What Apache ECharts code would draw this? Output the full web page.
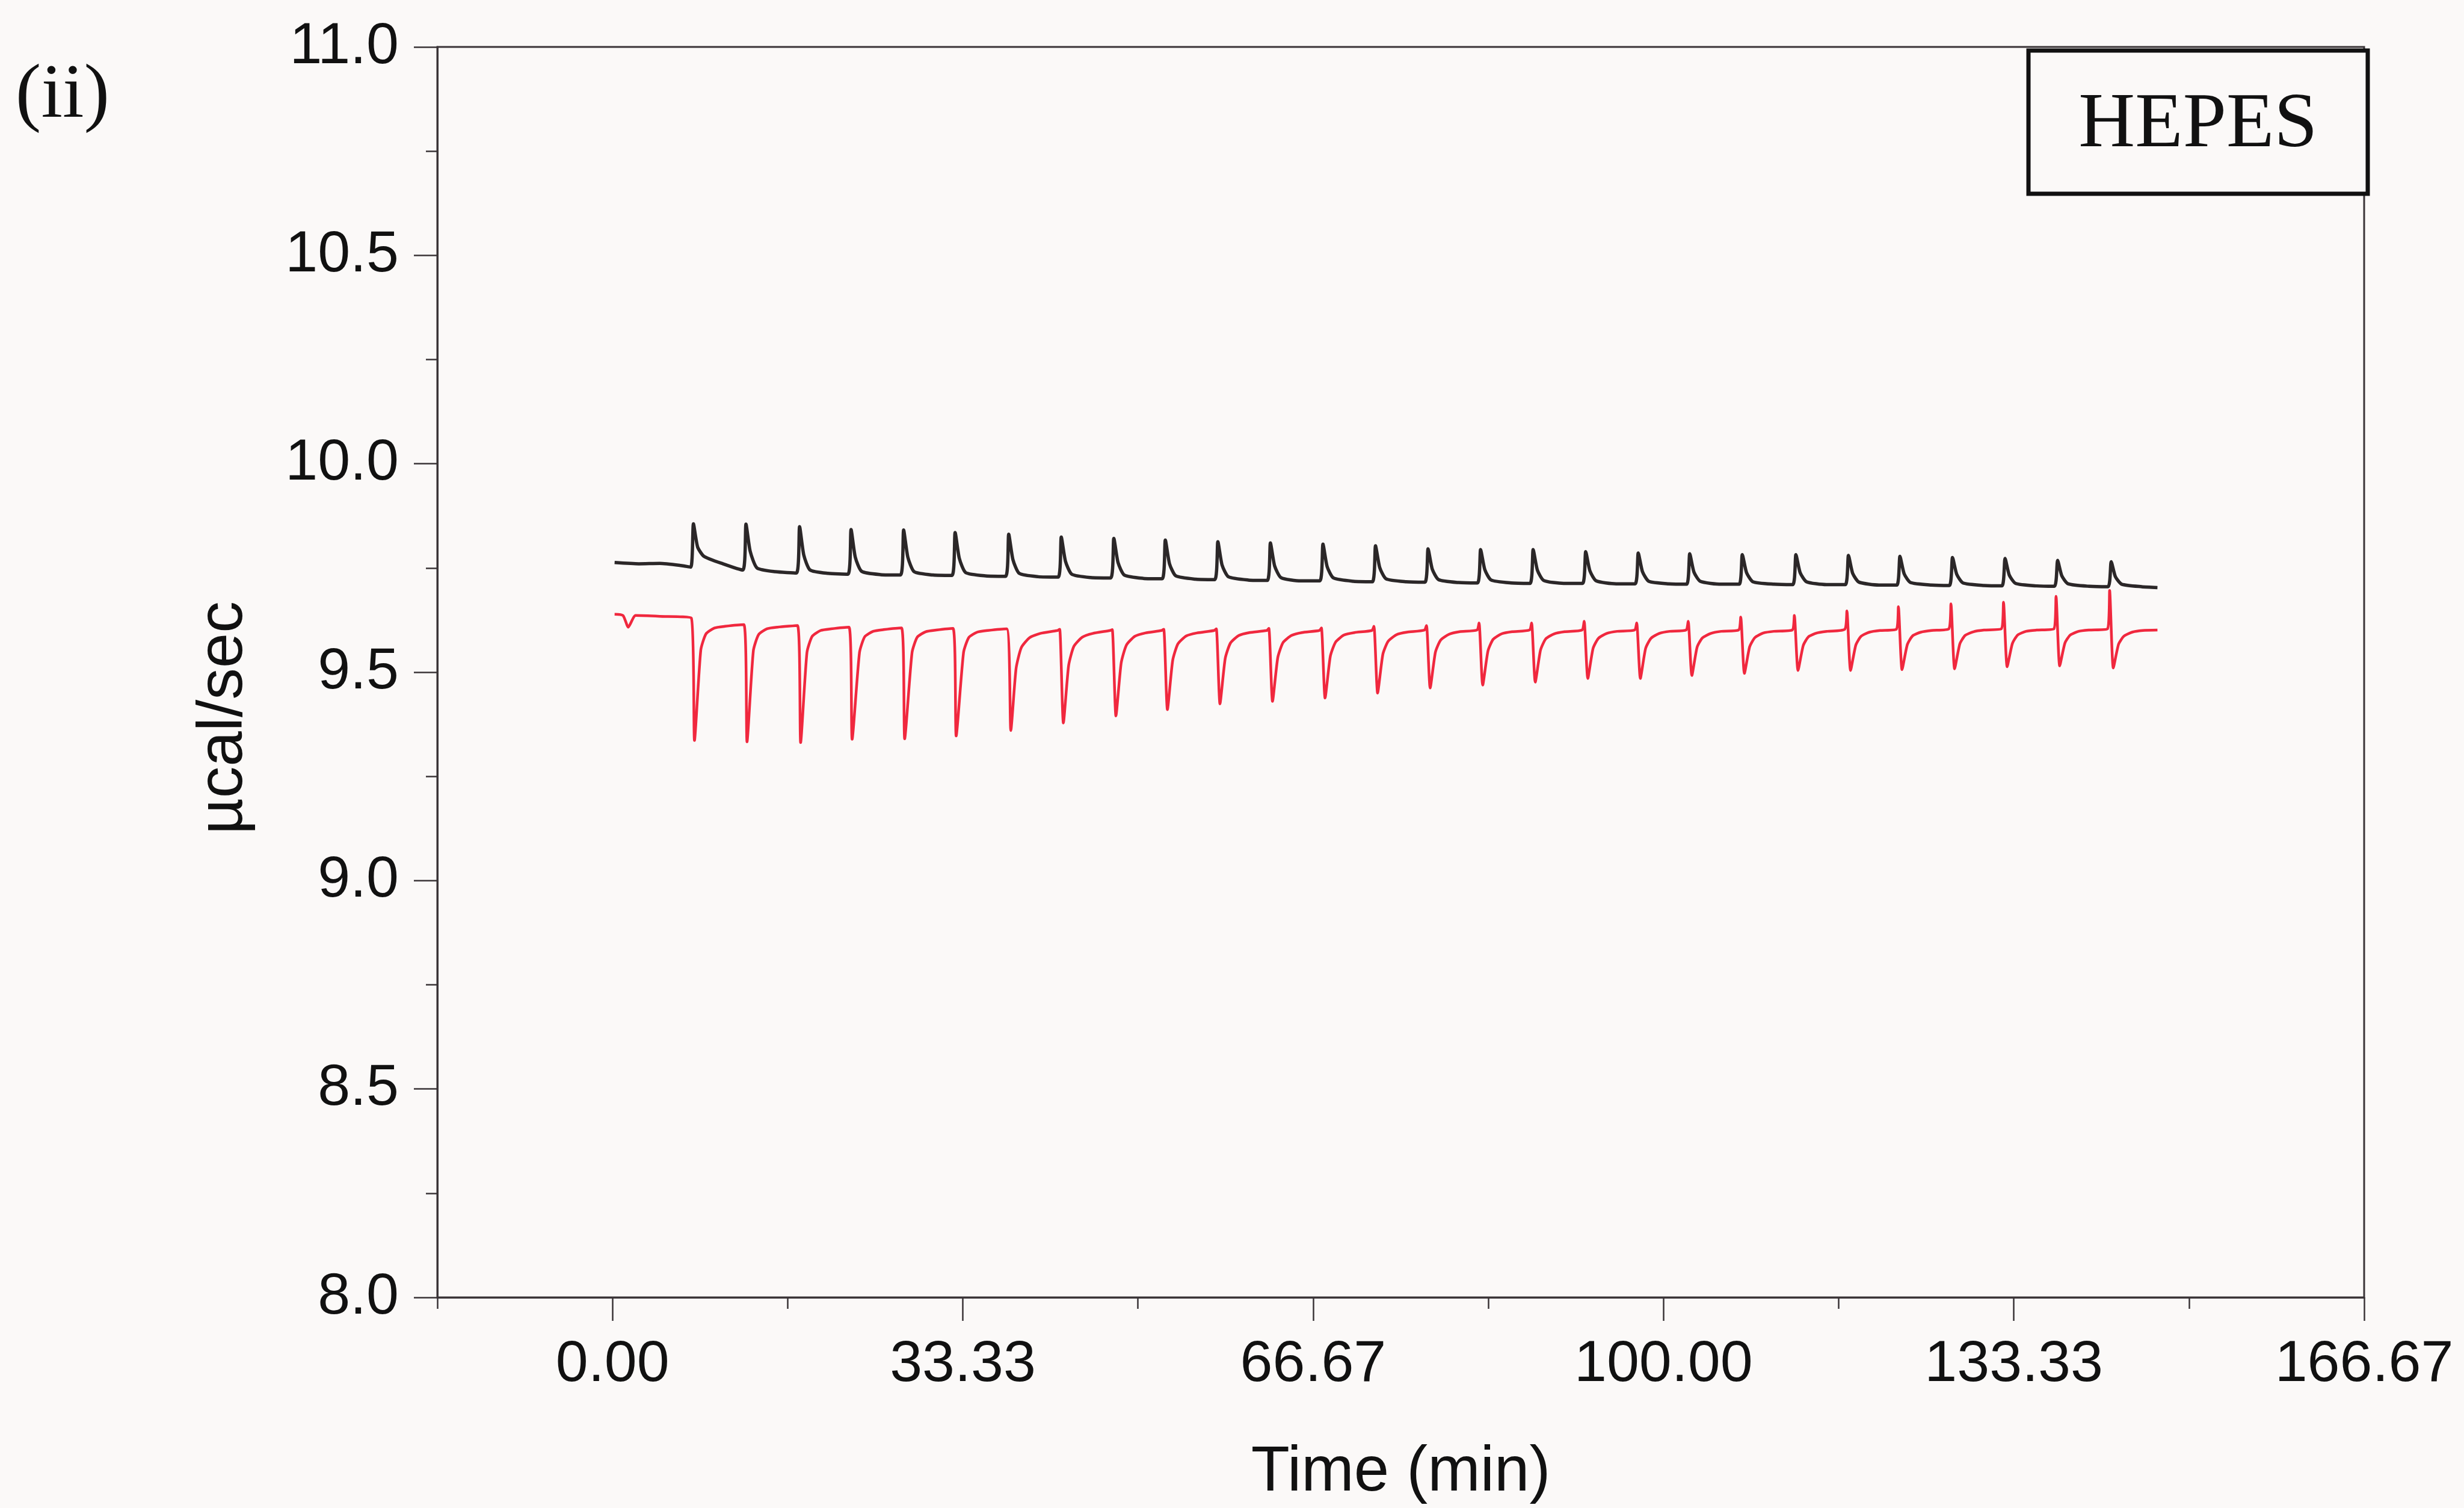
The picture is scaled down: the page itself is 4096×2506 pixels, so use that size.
<!DOCTYPE html>
<html>
<head>
<meta charset="utf-8">
<title>HEPES ITC trace</title>
<script src="https://cdn.jsdelivr.net/npm/echarts@6/dist/echarts.min.js"></script>
<style>
  html, body { margin: 0; padding: 0; background: #fbf9f8; }
  #chart { width: 4096px; height: 2506px; }
</style>
</head>
<body>
<div id="chart"></div>
<script>
// Time axis (min)
const timeMin = -16.667;
const timeMax = 166.667;
const timeMajorTicks = [0, 33.333, 66.667, 100, 133.333, 166.667];
const timeMajorLabels = ['0.00', '33.33', '66.67', '100.00', '133.33', '166.67'];
const timeMinorTicks = [-16.667, 16.667, 50, 83.333, 116.667, 150];

// Power axis (µcal/sec)
const powerMin = 8.0;
const powerMax = 11.0;
const powerStep = 0.5;

// Black trace: [time (min), power (µcal/sec)]
const blackTrace = [
  [0.2, 9.763], [2.5, 9.760], [4.5, 9.761], [6.5, 9.756], [7.45, 9.752],
  [7.7, 9.856], [8.1, 9.800], [8.7, 9.778], [10.5, 9.760], [12.4, 9.745],
  [12.7, 9.855], [13.1, 9.790], [13.75, 9.750], [15.5, 9.741], [17.5, 9.738],
  [17.8, 9.849], [18.2, 9.781], [18.8, 9.745], [20.5, 9.737], [22.4, 9.735],
  [22.7, 9.842], [23.1, 9.776], [23.7, 9.742], [25.5, 9.734], [27.4, 9.733],
  [27.7, 9.841], [28.1, 9.776], [28.7, 9.741], [30.5, 9.733], [32.3, 9.732],
  [32.6, 9.835], [33.0, 9.773], [33.6, 9.739], [35.5, 9.731], [37.4, 9.730],
  [37.7, 9.831], [38.1, 9.770], [38.7, 9.737], [40.5, 9.729], [42.4, 9.728],
  [42.7, 9.824], [43.1, 9.766], [43.7, 9.735], [45.5, 9.727], [47.4, 9.726],
  [47.7, 9.821], [48.1, 9.763], [48.7, 9.733], [50.5, 9.725], [52.3, 9.724],
  [52.6, 9.817], [53.0, 9.760], [53.6, 9.731], [55.5, 9.723], [57.3, 9.722],
  [57.6, 9.813], [58.0, 9.757], [58.6, 9.729], [60.5, 9.721], [62.3, 9.720],
  [62.6, 9.810], [63.0, 9.755], [63.6, 9.727], [65.5, 9.719], [67.3, 9.719],
  [67.6, 9.807], [68.0, 9.753], [68.6, 9.726], [70.5, 9.718], [72.3, 9.717],
  [72.6, 9.803], [73.0, 9.751], [73.6, 9.724], [75.5, 9.717], [77.3, 9.716],
  [77.6, 9.796], [78.0, 9.747], [78.6, 9.722], [80.5, 9.715], [82.3, 9.714],
  [82.6, 9.794], [83.0, 9.746], [83.6, 9.721], [85.5, 9.714], [87.3, 9.713],
  [87.6, 9.794], [88.0, 9.745], [88.6, 9.720], [90.5, 9.713], [92.3, 9.713],
  [92.6, 9.789], [93.0, 9.743], [93.6, 9.719], [95.5, 9.712], [97.3, 9.712],
  [97.6, 9.786], [98.0, 9.741], [98.6, 9.718], [100.5, 9.712], [102.2, 9.711],
  [102.5, 9.784], [102.9, 9.740], [103.5, 9.718], [105.5, 9.711], [107.2, 9.711],
  [107.5, 9.782], [107.9, 9.739], [108.5, 9.717], [110.5, 9.711], [112.3, 9.710],
  [112.6, 9.782], [113.0, 9.739], [113.6, 9.717], [115.5, 9.710], [117.3, 9.710],
  [117.6, 9.780], [118.0, 9.737], [118.6, 9.716], [120.5, 9.709], [122.2, 9.709],
  [122.5, 9.778], [122.9, 9.736], [123.5, 9.715], [125.5, 9.709], [127.2, 9.708],
  [127.5, 9.775], [127.9, 9.735], [128.5, 9.714], [130.5, 9.708], [132.2, 9.707],
  [132.5, 9.773], [132.9, 9.733], [133.5, 9.713], [135.5, 9.707], [137.2, 9.706],
  [137.5, 9.768], [137.9, 9.731], [138.5, 9.712], [140.5, 9.706], [142.3, 9.705],
  [142.6, 9.765], [143.0, 9.729], [143.6, 9.711], [145.5, 9.705], [147.0, 9.703]
];

// Red trace: [time (min), power (µcal/sec)]
const redTrace = [
  [0.2, 9.639], [1.0, 9.636], [1.5, 9.608], [2.2, 9.636], [4.5, 9.634], [7.5, 9.630],
  [7.8, 9.336], [8.4, 9.553], [8.9, 9.592], [9.7, 9.606], [10.7, 9.610], [12.5, 9.614],
  [12.8, 9.333], [13.4, 9.551], [13.9, 9.590], [14.7, 9.604], [15.7, 9.608], [17.6, 9.612],
  [17.9, 9.331], [18.5, 9.547], [19.0, 9.586], [19.8, 9.600], [20.8, 9.604], [22.5, 9.608],
  [22.8, 9.339], [23.5, 9.547], [24.0, 9.585], [24.8, 9.598], [25.8, 9.602], [27.5, 9.606],
  [27.8, 9.340], [28.5, 9.547], [29.0, 9.584], [29.8, 9.597], [30.8, 9.601], [32.4, 9.605],
  [32.7, 9.347], [33.4, 9.547], [33.9, 9.583], [34.7, 9.596], [35.7, 9.600], [37.5, 9.604],
  [37.9, 9.360], [38.4, 9.509], [38.9, 9.559], [39.7, 9.583], [40.7, 9.593], [42.35, 9.600], [42.55, 9.603],
  [42.9, 9.378], [43.4, 9.516], [43.9, 9.562], [44.7, 9.584], [45.7, 9.593], [47.35, 9.600], [47.55, 9.602],
  [47.9, 9.395], [48.4, 9.522], [48.9, 9.565], [49.7, 9.586], [50.7, 9.594], [52.25, 9.600], [52.45, 9.603],
  [52.8, 9.410], [53.3, 9.528], [53.8, 9.568], [54.6, 9.587], [55.6, 9.594], [57.25, 9.600], [57.45, 9.604],
  [57.8, 9.424], [58.3, 9.533], [58.8, 9.570], [59.6, 9.588], [60.6, 9.595], [62.25, 9.600], [62.45, 9.605],
  [62.8, 9.430], [63.3, 9.535], [63.8, 9.571], [64.6, 9.588], [65.6, 9.595], [67.25, 9.600], [67.45, 9.606],
  [67.8, 9.438], [68.3, 9.538], [68.8, 9.572], [69.6, 9.589], [70.6, 9.595], [72.25, 9.600], [72.45, 9.610],
  [72.8, 9.450], [73.3, 9.543], [73.8, 9.574], [74.6, 9.590], [75.6, 9.596], [77.25, 9.601], [77.45, 9.612],
  [77.8, 9.462], [78.3, 9.548], [78.8, 9.577], [79.6, 9.591], [80.6, 9.597], [82.25, 9.601], [82.45, 9.618],
  [82.8, 9.469], [83.3, 9.551], [83.8, 9.579], [84.6, 9.592], [85.6, 9.597], [87.25, 9.601], [87.45, 9.618],
  [87.8, 9.476], [88.3, 9.553], [88.8, 9.580], [89.6, 9.592], [90.6, 9.597], [92.25, 9.601], [92.45, 9.622],
  [92.8, 9.485], [93.3, 9.557], [93.8, 9.581], [94.6, 9.593], [95.6, 9.598], [97.25, 9.601], [97.45, 9.618],
  [97.8, 9.485], [98.3, 9.557], [98.8, 9.581], [99.6, 9.593], [100.6, 9.598], [102.15, 9.601], [102.35, 9.622],
  [102.7, 9.492], [103.2, 9.560], [103.7, 9.582], [104.5, 9.593], [105.5, 9.598], [107.15, 9.601], [107.35, 9.632],
  [107.7, 9.497], [108.2, 9.561], [108.7, 9.583], [109.5, 9.594], [110.5, 9.598], [112.25, 9.601], [112.45, 9.636],
  [112.8, 9.504], [113.3, 9.564], [113.8, 9.585], [114.6, 9.594], [115.6, 9.598], [117.25, 9.603], [117.45, 9.647],
  [117.8, 9.504], [118.3, 9.565], [118.8, 9.586], [119.6, 9.596], [120.6, 9.600], [122.15, 9.603], [122.35, 9.657],
  [122.7, 9.506], [123.2, 9.566], [123.7, 9.587], [124.5, 9.596], [125.5, 9.600], [127.15, 9.604], [127.35, 9.664],
  [127.7, 9.508], [128.2, 9.568], [128.7, 9.588], [129.5, 9.597], [130.5, 9.601], [132.15, 9.604], [132.35, 9.668],
  [132.7, 9.513], [133.2, 9.569], [133.7, 9.589], [134.5, 9.598], [135.5, 9.601], [137.15, 9.604], [137.35, 9.682],
  [137.7, 9.515], [138.2, 9.570], [138.7, 9.589], [139.5, 9.598], [140.5, 9.601], [142.25, 9.604], [142.45, 9.696],
  [142.8, 9.510], [143.3, 9.567], [143.8, 9.586], [144.6, 9.596], [145.6, 9.600], [147.0, 9.601]
];

const panelLabel = '(ii)';
const bufferLabel = 'HEPES';
const xTitle = 'Time (min)';
const yTitle = 'µcal/sec';

const sansFont = '"Liberation Sans", Arial, sans-serif';
const serifFont = '"Liberation Serif", "Times New Roman", serif';
const axisColor = '#3a3437';
const textColor = '#111111';
const pageColor = '#fbf9f8';

const grid = { left: 727, right: 166, top: 78, bottom: 348 };

const chart = echarts.init(document.getElementById('chart'), null, { renderer: 'canvas' });

function labelForTime(v) {
  let best = 0;
  for (let i = 1; i < timeMajorTicks.length; i++) {
    if (Math.abs(timeMajorTicks[i] - v) < Math.abs(timeMajorTicks[best] - v)) best = i;
  }
  return timeMajorLabels[best];
}

const option = {
  backgroundColor: pageColor,
  animation: false,
  grid: {
    left: grid.left, right: grid.right, top: grid.top, bottom: grid.bottom,
    show: true, borderColor: axisColor, borderWidth: 3, backgroundColor: 'transparent'
  },
  xAxis: [
    {
      type: 'value', position: 'bottom', min: timeMin, max: timeMax,
      name: xTitle, nameLocation: 'middle', nameGap: 240,
      nameTextStyle: { fontFamily: sansFont, fontSize: 105, color: textColor },
      axisLine: { show: true, onZero: false, lineStyle: { color: axisColor, width: 3 } },
      axisTick: { show: true, inside: false, length: 39, customValues: timeMajorTicks,
                  lineStyle: { color: axisColor, width: 2.5 } },
      axisLabel: { show: true, customValues: timeMajorTicks, margin: 64,
                   fontFamily: sansFont, fontSize: 97, color: textColor,
                   formatter: labelForTime, showMinLabel: true, showMaxLabel: true },
      splitLine: { show: false }
    },
    {
      type: 'value', position: 'bottom', min: timeMin, max: timeMax,
      axisLine: { show: false },
      axisTick: { show: true, inside: false, length: 19, customValues: timeMinorTicks,
                  lineStyle: { color: axisColor, width: 2.5 } },
      axisLabel: { show: false },
      splitLine: { show: false }
    }
  ],
  yAxis: [
    {
      type: 'value', position: 'left', min: powerMin, max: powerMax, interval: powerStep,
      axisLine: { show: true, onZero: false, lineStyle: { color: axisColor, width: 3 } },
      axisTick: { show: true, inside: false, length: 39, lineStyle: { color: axisColor, width: 2.5 } },
      minorTick: { show: true, splitNumber: 2, length: 19, lineStyle: { color: axisColor, width: 2.5 } },
      axisLabel: { show: true, margin: 64, fontFamily: sansFont, fontSize: 97, color: textColor,
                   formatter: (v) => v.toFixed(1), showMinLabel: true, showMaxLabel: true },
      splitLine: { show: false },
      minorSplitLine: { show: false }
    }
  ],
  series: [
    {
      name: 'black', type: 'line', xAxisIndex: 0, yAxisIndex: 0,
      data: blackTrace, showSymbol: false, smooth: 0.2, silent: true,
      lineStyle: { color: '#2b2728', width: 5.5 }, z: 3
    },
    {
      name: 'red', type: 'line', xAxisIndex: 0, yAxisIndex: 0,
      data: redTrace, showSymbol: false, smooth: 0.2, silent: true,
      lineStyle: { color: '#f0283e', width: 4.5 }, z: 2
    }
  ],
  graphic: [
    {
      type: 'text', x: 104, y: 160, z: 10,
      style: { text: panelLabel, font: '128px ' + serifFont, fill: textColor,
               align: 'center', verticalAlign: 'middle', textAlign: 'center', textVerticalAlign: 'middle' }
    },
    {
      type: 'text', x: 373, y: 1193, rotation: Math.PI / 2, z: 10,
      style: { text: yTitle, font: '105px ' + sansFont, fill: textColor,
               align: 'center', verticalAlign: 'middle', textAlign: 'center', textVerticalAlign: 'middle' }
    },
    {
      type: 'rect', z: 20,
      shape: { x: 3372, y: 84, width: 564, height: 238 },
      style: { fill: pageColor, stroke: '#111111', lineWidth: 7 }
    },
    {
      type: 'text', x: 3654, y: 209, z: 21,
      style: { text: bufferLabel, font: '130px ' + serifFont, fill: textColor,
               align: 'center', verticalAlign: 'middle', textAlign: 'center', textVerticalAlign: 'middle' }
    }
  ]
};

chart.setOption(option);
</script>
</body>
</html>
